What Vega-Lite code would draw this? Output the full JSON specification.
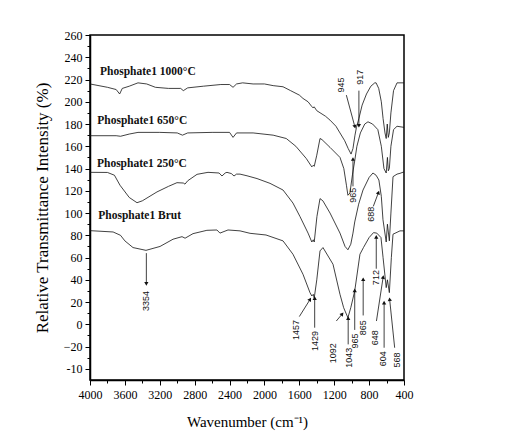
{
  "$schema": "https://vega.github.io/schema/vega-lite/v6.json",
  "width": 314,
  "height": 345,
  "autosize": {"type": "none"},
  "padding": {"left": 90, "top": 35, "right": 102, "bottom": 62},
  "background": "white",
  "config": {
    "view": {"stroke": "black", "strokeWidth": 1.5},
    "axis": {"domainColor": "black", "domainWidth": 1.5, "tickColor": "black", "labelColor": "black", "titleColor": "black", "grid": false, "labelOverlap": false, "labelFlush": false, "labelBound": false}
  },
  "datasets": {
    "spectra": [
      {"series": "1000", "wn": 4000, "v": 216}, {"series": "1000", "wn": 3800, "v": 213}, {"series": "1000", "wn": 3700, "v": 211}, {"series": "1000", "wn": 3660, "v": 207}, {"series": "1000", "wn": 3630, "v": 212}, {"series": "1000", "wn": 3550, "v": 214}, {"series": "1000", "wn": 3450, "v": 217}, {"series": "1000", "wn": 3350, "v": 216}, {"series": "1000", "wn": 3250, "v": 213}, {"series": "1000", "wn": 3100, "v": 212}, {"series": "1000", "wn": 2960, "v": 212}, {"series": "1000", "wn": 2930, "v": 210}, {"series": "1000", "wn": 2880, "v": 212.5}, {"series": "1000", "wn": 2700, "v": 214}, {"series": "1000", "wn": 2500, "v": 215.5}, {"series": "1000", "wn": 2400, "v": 215.5}, {"series": "1000", "wn": 2360, "v": 213}, {"series": "1000", "wn": 2320, "v": 216}, {"series": "1000", "wn": 2250, "v": 217}, {"series": "1000", "wn": 2130, "v": 216}, {"series": "1000", "wn": 2000, "v": 216}, {"series": "1000", "wn": 1900, "v": 214.5}, {"series": "1000", "wn": 1787, "v": 213.5}, {"series": "1000", "wn": 1700, "v": 210}, {"series": "1000", "wn": 1600, "v": 206}, {"series": "1000", "wn": 1558, "v": 203}, {"series": "1000", "wn": 1500, "v": 200}, {"series": "1000", "wn": 1460, "v": 196}, {"series": "1000", "wn": 1443, "v": 194.5}, {"series": "1000", "wn": 1430, "v": 195.5}, {"series": "1000", "wn": 1400, "v": 192}, {"series": "1000", "wn": 1300, "v": 187}, {"series": "1000", "wn": 1248, "v": 183.5}, {"series": "1000", "wn": 1180, "v": 178}, {"series": "1000", "wn": 1134, "v": 172}, {"series": "1000", "wn": 1080, "v": 165}, {"series": "1000", "wn": 1040, "v": 158}, {"series": "1000", "wn": 1007, "v": 153}, {"series": "1000", "wn": 985, "v": 158}, {"series": "1000", "wn": 962, "v": 170}, {"series": "1000", "wn": 945, "v": 177}, {"series": "1000", "wn": 917, "v": 185}, {"series": "1000", "wn": 880, "v": 197}, {"series": "1000", "wn": 830, "v": 207}, {"series": "1000", "wn": 780, "v": 214}, {"series": "1000", "wn": 735, "v": 217}, {"series": "1000", "wn": 720, "v": 217}, {"series": "1000", "wn": 690, "v": 212}, {"series": "1000", "wn": 660, "v": 200}, {"series": "1000", "wn": 640, "v": 185}, {"series": "1000", "wn": 618, "v": 172}, {"series": "1000", "wn": 604, "v": 167}, {"series": "1000", "wn": 592, "v": 180}, {"series": "1000", "wn": 580, "v": 168}, {"series": "1000", "wn": 568, "v": 172}, {"series": "1000", "wn": 550, "v": 190}, {"series": "1000", "wn": 520, "v": 210}, {"series": "1000", "wn": 480, "v": 217}, {"series": "1000", "wn": 400, "v": 217},
      {"series": "650", "wn": 4000, "v": 169.5}, {"series": "650", "wn": 3700, "v": 169.5}, {"series": "650", "wn": 3650, "v": 169}, {"series": "650", "wn": 3550, "v": 171}, {"series": "650", "wn": 3450, "v": 172.5}, {"series": "650", "wn": 3200, "v": 172.5}, {"series": "650", "wn": 3000, "v": 172}, {"series": "650", "wn": 2940, "v": 170}, {"series": "650", "wn": 2880, "v": 172}, {"series": "650", "wn": 2600, "v": 172.5}, {"series": "650", "wn": 2400, "v": 172.5}, {"series": "650", "wn": 2360, "v": 168}, {"series": "650", "wn": 2320, "v": 172}, {"series": "650", "wn": 2130, "v": 172}, {"series": "650", "wn": 1900, "v": 170}, {"series": "650", "wn": 1750, "v": 167}, {"series": "650", "wn": 1640, "v": 160}, {"series": "650", "wn": 1520, "v": 149}, {"series": "650", "wn": 1470, "v": 143}, {"series": "650", "wn": 1457, "v": 141.5}, {"series": "650", "wn": 1440, "v": 143}, {"series": "650", "wn": 1429, "v": 142}, {"series": "650", "wn": 1400, "v": 152}, {"series": "650", "wn": 1363, "v": 167}, {"series": "650", "wn": 1340, "v": 166}, {"series": "650", "wn": 1248, "v": 159}, {"series": "650", "wn": 1134, "v": 150}, {"series": "650", "wn": 1090, "v": 140}, {"series": "650", "wn": 1060, "v": 125}, {"series": "650", "wn": 1043, "v": 116}, {"series": "650", "wn": 1020, "v": 118}, {"series": "650", "wn": 990, "v": 135}, {"series": "650", "wn": 965, "v": 147}, {"series": "650", "wn": 940, "v": 160}, {"series": "650", "wn": 900, "v": 172}, {"series": "650", "wn": 850, "v": 180}, {"series": "650", "wn": 813, "v": 182}, {"series": "650", "wn": 760, "v": 180}, {"series": "650", "wn": 700, "v": 175}, {"series": "650", "wn": 660, "v": 160}, {"series": "650", "wn": 630, "v": 140}, {"series": "650", "wn": 604, "v": 136}, {"series": "650", "wn": 590, "v": 150}, {"series": "650", "wn": 580, "v": 138}, {"series": "650", "wn": 568, "v": 140}, {"series": "650", "wn": 550, "v": 160}, {"series": "650", "wn": 520, "v": 175}, {"series": "650", "wn": 480, "v": 178}, {"series": "650", "wn": 400, "v": 177},
      {"series": "250", "wn": 4000, "v": 136.6}, {"series": "250", "wn": 3800, "v": 136.5}, {"series": "250", "wn": 3720, "v": 134}, {"series": "250", "wn": 3656, "v": 125}, {"series": "250", "wn": 3550, "v": 114}, {"series": "250", "wn": 3461, "v": 109.3}, {"series": "250", "wn": 3400, "v": 111}, {"series": "250", "wn": 3232, "v": 119}, {"series": "250", "wn": 3100, "v": 124}, {"series": "250", "wn": 3003, "v": 127.3}, {"series": "250", "wn": 2930, "v": 127}, {"series": "250", "wn": 2911, "v": 126}, {"series": "250", "wn": 2880, "v": 129}, {"series": "250", "wn": 2773, "v": 134.8}, {"series": "250", "wn": 2647, "v": 136.6}, {"series": "250", "wn": 2520, "v": 136}, {"series": "250", "wn": 2487, "v": 133.3}, {"series": "250", "wn": 2450, "v": 136}, {"series": "250", "wn": 2430, "v": 136.6}, {"series": "250", "wn": 2380, "v": 135.5}, {"series": "250", "wn": 2349, "v": 133.3}, {"series": "250", "wn": 2320, "v": 135}, {"series": "250", "wn": 2280, "v": 135}, {"series": "250", "wn": 2200, "v": 133.5}, {"series": "250", "wn": 2085, "v": 131}, {"series": "250", "wn": 1936, "v": 126.7}, {"series": "250", "wn": 1787, "v": 120.7}, {"series": "250", "wn": 1673, "v": 109}, {"series": "250", "wn": 1592, "v": 96.8}, {"series": "250", "wn": 1500, "v": 82}, {"series": "250", "wn": 1457, "v": 74}, {"series": "250", "wn": 1440, "v": 76}, {"series": "250", "wn": 1429, "v": 74}, {"series": "250", "wn": 1398, "v": 97}, {"series": "250", "wn": 1363, "v": 113}, {"series": "250", "wn": 1330, "v": 111}, {"series": "250", "wn": 1248, "v": 100}, {"series": "250", "wn": 1134, "v": 82}, {"series": "250", "wn": 1076, "v": 70}, {"series": "250", "wn": 1043, "v": 67}, {"series": "250", "wn": 1010, "v": 72}, {"series": "250", "wn": 985, "v": 82}, {"series": "250", "wn": 965, "v": 92}, {"series": "250", "wn": 920, "v": 108}, {"series": "250", "wn": 870, "v": 120.7}, {"series": "250", "wn": 800, "v": 132}, {"series": "250", "wn": 756, "v": 136}, {"series": "250", "wn": 720, "v": 134}, {"series": "250", "wn": 688, "v": 129.7}, {"series": "250", "wn": 660, "v": 115}, {"series": "250", "wn": 641, "v": 94}, {"series": "250", "wn": 604, "v": 74}, {"series": "250", "wn": 590, "v": 90}, {"series": "250", "wn": 568, "v": 75}, {"series": "250", "wn": 550, "v": 100}, {"series": "250", "wn": 526, "v": 132.7}, {"series": "250", "wn": 480, "v": 135}, {"series": "250", "wn": 446, "v": 135.7}, {"series": "250", "wn": 400, "v": 137},
      {"series": "brut", "wn": 4000, "v": 84.2}, {"series": "brut", "wn": 3735, "v": 83}, {"series": "brut", "wn": 3650, "v": 80}, {"series": "brut", "wn": 3600, "v": 75}, {"series": "brut", "wn": 3507, "v": 69}, {"series": "brut", "wn": 3358, "v": 66.5}, {"series": "brut", "wn": 3197, "v": 70}, {"series": "brut", "wn": 3048, "v": 76.5}, {"series": "brut", "wn": 2945, "v": 78.8}, {"series": "brut", "wn": 2910, "v": 77.4}, {"series": "brut", "wn": 2819, "v": 81.5}, {"series": "brut", "wn": 2660, "v": 84.5}, {"series": "brut", "wn": 2545, "v": 84.8}, {"series": "brut", "wn": 2510, "v": 82}, {"series": "brut", "wn": 2418, "v": 84.8}, {"series": "brut", "wn": 2280, "v": 84}, {"series": "brut", "wn": 2165, "v": 81.8}, {"series": "brut", "wn": 1982, "v": 80.3}, {"series": "brut", "wn": 1787, "v": 75}, {"series": "brut", "wn": 1673, "v": 63}, {"series": "brut", "wn": 1558, "v": 45}, {"series": "brut", "wn": 1478, "v": 28.5}, {"series": "brut", "wn": 1457, "v": 25.5}, {"series": "brut", "wn": 1440, "v": 27}, {"series": "brut", "wn": 1429, "v": 23.7}, {"series": "brut", "wn": 1400, "v": 40}, {"series": "brut", "wn": 1363, "v": 66}, {"series": "brut", "wn": 1329, "v": 69}, {"series": "brut", "wn": 1214, "v": 54}, {"series": "brut", "wn": 1134, "v": 27}, {"series": "brut", "wn": 1092, "v": 15}, {"series": "brut", "wn": 1076, "v": 12}, {"series": "brut", "wn": 1043, "v": 6}, {"series": "brut", "wn": 1010, "v": 15}, {"series": "brut", "wn": 965, "v": 30}, {"series": "brut", "wn": 905, "v": 63}, {"series": "brut", "wn": 865, "v": 69}, {"series": "brut", "wn": 800, "v": 78}, {"series": "brut", "wn": 750, "v": 82.4}, {"series": "brut", "wn": 712, "v": 82}, {"series": "brut", "wn": 664, "v": 78}, {"series": "brut", "wn": 640, "v": 60}, {"series": "brut", "wn": 604, "v": 33}, {"series": "brut", "wn": 590, "v": 40}, {"series": "brut", "wn": 568, "v": 28.5}, {"series": "brut", "wn": 545, "v": 60}, {"series": "brut", "wn": 526, "v": 81}, {"series": "brut", "wn": 446, "v": 84}, {"series": "brut", "wn": 400, "v": 84}
    ],
    "arrows": [
      {"wn": 3354, "v": 64, "wn2": 3354, "v2": 37, "dir": 180},
      {"wn": 1600, "v": 7, "wn2": 1480, "v2": 22, "dir": 30},
      {"wn": 1424, "v": -3, "wn2": 1424, "v2": 23, "dir": 0},
      {"wn": 1176, "v": 3, "wn2": 1112, "v2": 9, "dir": 40},
      {"wn": 1040, "v": -18, "wn2": 1040, "v2": 5, "dir": 0},
      {"wn": 965, "v": -5, "wn2": 965, "v2": 30, "dir": 0},
      {"wn": 868, "v": 8, "wn2": 868, "v2": 40, "dir": 0},
      {"wn": 718, "v": 50, "wn2": 718, "v2": 78, "dir": 0},
      {"wn": 716, "v": 3, "wn2": 640, "v2": 42, "dir": 9},
      {"wn": 628, "v": -21, "wn2": 628, "v2": 19, "dir": 0},
      {"wn": 507, "v": -21, "wn2": 564, "v2": 22, "dir": -6},
      {"wn": 1061, "v": 206, "wn2": 965, "v2": 178, "dir": 165},
      {"wn": 917, "v": 210, "wn2": 917, "v2": 179, "dir": 180},
      {"wn": 985, "v": 124, "wn2": 985, "v2": 148, "dir": 0},
      {"wn": 752, "v": 106, "wn2": 695, "v2": 118, "dir": 20}
    ],
    "peaks": [
      {"label": "3354", "wn": 3358, "v": 21},
      {"label": "1457", "wn": 1638, "v": -5},
      {"label": "1429", "wn": 1424, "v": -15},
      {"label": "1092", "wn": 1214, "v": -26},
      {"label": "1043", "wn": 1030, "v": -30},
      {"label": "965", "wn": 965, "v": -15},
      {"label": "865", "wn": 870, "v": -3},
      {"label": "712", "wn": 724, "v": 42},
      {"label": "648", "wn": 736, "v": -12},
      {"label": "604", "wn": 641, "v": -31},
      {"label": "568", "wn": 480, "v": -32},
      {"label": "945", "wn": 1119, "v": 215},
      {"label": "917", "wn": 901, "v": 222},
      {"label": "965", "wn": 985, "v": 116},
      {"label": "688", "wn": 782, "v": 99}
    ],
    "names": [
      {"label": "Phosphate1 1000°C", "wn": 3885, "v": 227},
      {"label": "Phosphate1 650°C", "wn": 3916, "v": 183},
      {"label": "Phosphate1 250°C", "wn": 3920, "v": 144},
      {"label": "Phosphate1 Brut", "wn": 3905, "v": 97}
    ]
  },
  "encoding": {
    "x": {
      "field": "wn", "type": "quantitative",
      "scale": {"domain": [400, 4000], "reverse": true, "nice": false, "zero": false},
      "axis": {
        "values": [400, 600, 800, 1000, 1200, 1400, 1600, 1800, 2000, 2200, 2400, 2600, 2800, 3000, 3200, 3400, 3600, 3800, 4000],
        "format": "d",
        "labelExpr": "datum.value % 400 == 0 ? datum.label : ''",
        "tickSize": {"condition": {"test": "datum.value % 400 == 0", "value": 5}, "value": 3},
        "labelFont": "Liberation Sans Narrow", "labelFontSize": 12, "labelPadding": 4,
        "title": "Wavenumber (cm⁻¹)", "titleFont": "Liberation Serif", "titleFontSize": 15, "titleFontWeight": "normal", "titlePadding": 14
      }
    },
    "y": {
      "field": "v", "type": "quantitative",
      "scale": {"domain": [-50, 260], "nice": false, "zero": false},
      "axis": {
        "values": [-40, -30, -20, -10, 0, 10, 20, 30, 40, 50, 60, 70, 80, 90, 100, 110, 120, 130, 140, 150, 160, 170, 180, 190, 200, 210, 220, 230, 240, 250, 260],
        "labelExpr": "datum.value % 20 != 0 ? '' : (datum.value == -40 ? '-10' : datum.label)",
        "tickSize": {"condition": {"test": "datum.value % 20 == 0", "value": 5}, "value": 3},
        "labelFont": "Liberation Sans Narrow", "labelFontSize": 12, "labelPadding": 3,
        "title": "Relative Transmittance Intensity (%)", "titleFont": "Liberation Serif", "titleFontSize": 17, "titleFontWeight": "normal", "titlePadding": 12
      }
    }
  },
  "layer": [
    {
      "data": {"name": "spectra"},
      "mark": {"type": "line", "color": "#111", "strokeWidth": 0.8},
      "encoding": {"detail": {"field": "series", "type": "nominal"}}
    },
    {
      "data": {"name": "arrows"},
      "mark": {"type": "rule", "color": "#111", "strokeWidth": 0.8},
      "encoding": {"x2": {"field": "wn2"}, "y2": {"field": "v2"}}
    },
    {
      "data": {"name": "arrows"},
      "mark": {"type": "point", "shape": "triangle", "filled": true, "color": "#111", "size": 18, "opacity": 1},
      "encoding": {
        "x": {"field": "wn2", "type": "quantitative"},
        "y": {"field": "v2", "type": "quantitative"},
        "angle": {"field": "dir", "type": "quantitative", "scale": null}
      }
    },
    {
      "data": {"name": "peaks"},
      "mark": {"type": "text", "angle": 270, "align": "center", "baseline": "middle", "font": "Liberation Sans", "fontSize": 9, "color": "#111"},
      "encoding": {"text": {"field": "label"}}
    },
    {
      "data": {"name": "names"},
      "mark": {"type": "text", "align": "left", "baseline": "middle", "font": "Liberation Serif", "fontSize": 11.5, "fontWeight": "bold", "color": "#111"},
      "encoding": {"text": {"field": "label"}}
    }
  ]
}
